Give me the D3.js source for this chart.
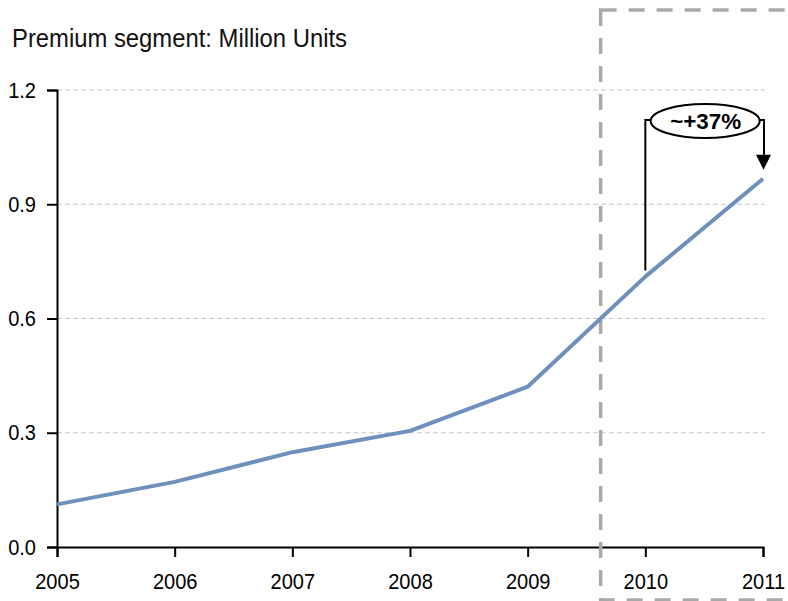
<!DOCTYPE html>
<html>
<head>
<meta charset="utf-8">
<script src="https://cdn.jsdelivr.net/npm/d3@7/dist/d3.min.js"></script>
<style>
  html, body { margin: 0; padding: 0; background: #fff; }
  svg { display: block; font-family: "Liberation Sans", Arial, sans-serif; }
</style>
</head>
<body>
<svg id="chart" width="788" height="601"></svg>
<script>
// Premium segment volumes (million units), 2005–2011
const years = [2005, 2006, 2007, 2008, 2009, 2010, 2011];
const units = [0.112, 0.171, 0.249, 0.305, 0.421, 0.71, 0.967];
const yTicks = [0.0, 0.3, 0.6, 0.9, 1.2];
const titleText = "Premium segment: Million Units";
const growthLabel = "~+37%";
const forecastStart = 2009.62; // boundary of the highlighted forecast period

const svg = d3.select("#chart");
const margin = { left: 57, right: 25, top: 90, bottom: 54 };
const W = 788, H = 601;
const squeeze = 0.91; // condensed look of the labels

const x = d3.scaleLinear()
  .domain([2005, 2011])
  .range([margin.left, W - margin.right]);
const y = d3.scaleLinear()
  .domain([0, 1.2])
  .range([H - margin.bottom, margin.top]);

// Title
svg.append("text")
  .attr("x", 12).attr("y", 47)
  .attr("font-size", 25)
  .attr("fill", "#111")
  .attr("textLength", 335)
  .attr("lengthAdjust", "spacingAndGlyphs")
  .text(titleText);

// Horizontal dashed gridlines
svg.append("g")
  .selectAll("line")
  .data(yTicks.filter(d => d > 0))
  .join("line")
  .attr("x1", x(2005)).attr("x2", x(2011) + 2)
  .attr("y1", d => y(d)).attr("y2", d => y(d))
  .attr("stroke", "#c8c8c8")
  .attr("stroke-width", 1)
  .attr("stroke-dasharray", "5,3");

// Y axis
const yAxis = svg.append("g")
  .attr("transform", `translate(${x(2005)},0)`)
  .call(d3.axisLeft(y).tickValues(yTicks).tickFormat(d3.format(".1f")).tickSize(10).tickPadding(11));

// X axis
const xAxis = svg.append("g")
  .attr("transform", `translate(0,${y(0)})`)
  .call(d3.axisBottom(x).tickValues(years).tickFormat(d3.format("d")).tickSize(10).tickPadding(16));

[yAxis, xAxis].forEach(g => {
  g.select(".domain").attr("stroke", "#000").attr("stroke-width", 2);
  g.selectAll(".tick line").attr("stroke", "#000").attr("stroke-width", 2);
  g.selectAll(".tick text")
    .attr("fill", "#000")
    .attr("font-size", 22)
    .attr("font-family", "'Liberation Sans', Arial, sans-serif")
    .each(function () {
      const w = this.getComputedTextLength();
      d3.select(this).attr("textLength", w * squeeze).attr("lengthAdjust", "spacingAndGlyphs");
    });
});

// Forecast period frame
svg.append("rect")
  .attr("x", x(forecastStart)).attr("y", 10)
  .attr("width", 300).attr("height", 590)
  .attr("fill", "none")
  .attr("stroke", "#a9a9a9")
  .attr("stroke-width", 3.5)
  .attr("stroke-dasharray", "16,12");

// Volume line
svg.append("path")
  .datum(years.map((yr, i) => [yr, units[i]]))
  .attr("fill", "none")
  .attr("stroke", "#6f8fbd")
  .attr("stroke-width", 4)
  .attr("stroke-linejoin", "round")
  .attr("d", d3.line().x(d => x(d[0])).y(d => y(d[1])));

// Growth annotation 2010 → 2011
const ax1 = x(2010), ax2 = x(2011);
const bracketY = 120;
const ann = svg.append("g");
ann.append("path")
  .attr("d", `M${ax1},${y(units[5]) - 6} V${bracketY} H${ax1 + 8}`)
  .attr("fill", "none").attr("stroke", "#000").attr("stroke-width", 2);
ann.append("path")
  .attr("d", `M${ax2 - 8},${bracketY} H${ax2 + 1} V${y(units[6]) - 24}`)
  .attr("fill", "none").attr("stroke", "#000").attr("stroke-width", 2);
ann.append("path")
  .attr("d", `M${ax2 - 7},${y(units[6]) - 24} L${ax2 + 8},${y(units[6]) - 24} L${ax2 + 0.5},${y(units[6]) - 9} Z`)
  .attr("fill", "#000");
const cx = (ax1 + ax2) / 2 + 1;
ann.append("ellipse")
  .attr("cx", cx).attr("cy", bracketY + 1)
  .attr("rx", 54.5).attr("ry", 17)
  .attr("fill", "#fff").attr("stroke", "#000").attr("stroke-width", 2);
ann.append("text")
  .attr("x", cx - 35).attr("y", bracketY + 9)
  .attr("font-size", 22).attr("font-weight", "bold")
  .attr("fill", "#000")
  .attr("textLength", 71)
  .attr("lengthAdjust", "spacingAndGlyphs")
  .text(growthLabel);
</script>
</body>
</html>
